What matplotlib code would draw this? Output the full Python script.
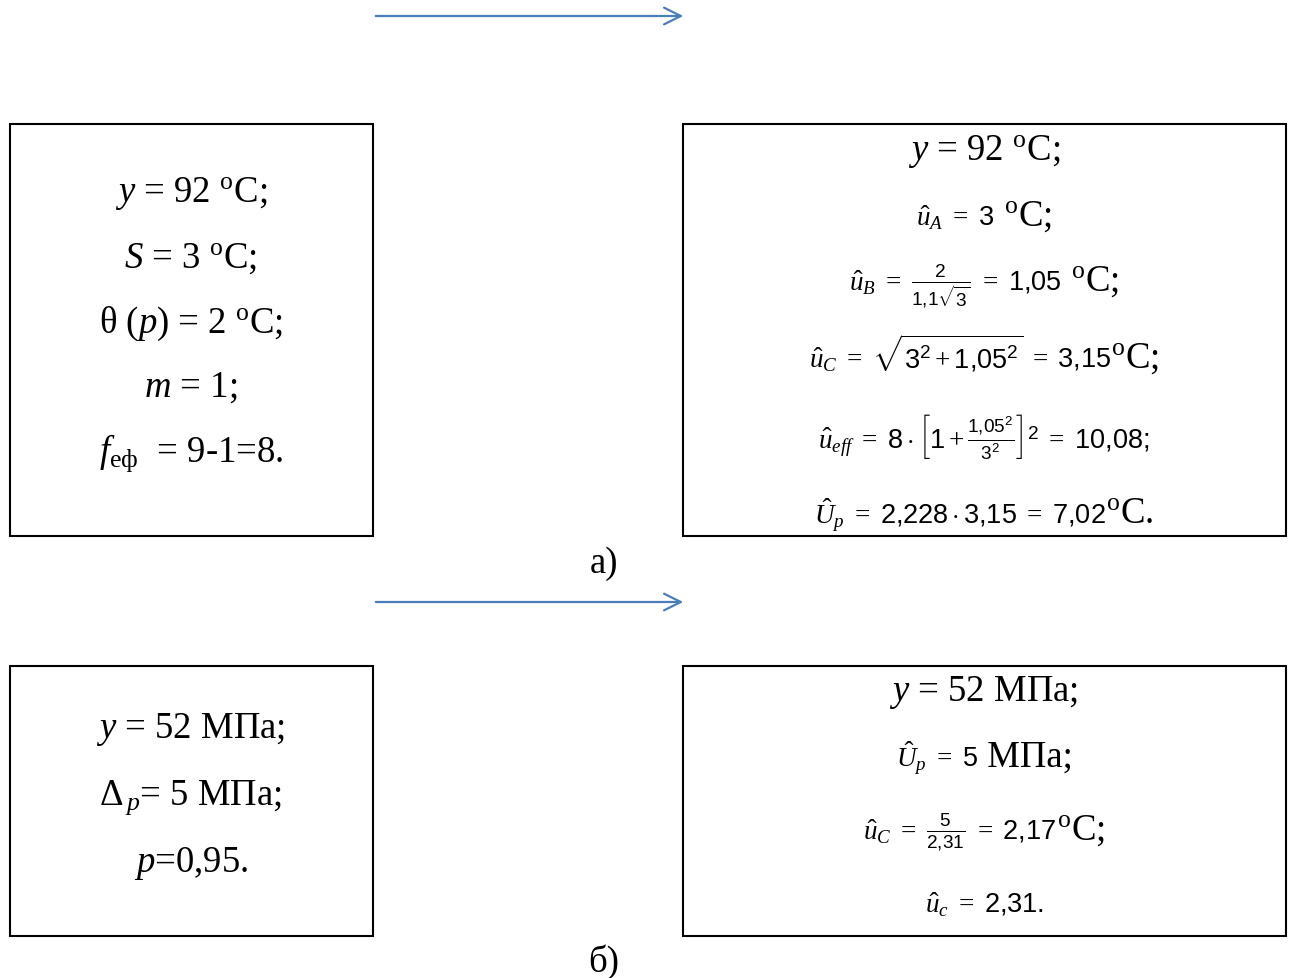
import matplotlib
matplotlib.use("Agg")
import matplotlib.pyplot as plt
from matplotlib.patches import Rectangle, FancyArrowPatch

plt.rcParams['mathtext.fontset'] = 'custom'
plt.rcParams['mathtext.rm'] = 'Liberation Serif'
plt.rcParams['mathtext.it'] = 'Liberation Serif:italic'
plt.rcParams['mathtext.sf'] = 'Liberation Sans'

# left boxes (given data)
left_a = [r"$y$ = 92 $^{\rm o}$C;",
          r"$S$ = 3 $^{\rm o}$C;",
          r"θ ($p$) = 2 $^{\rm o}$C;",
          r"$m$ = 1;",
          r"$f$$_{\rm eф}$  = 9-1=8."]
left_b = [r"$y$ = 52 МПа;",
          r"Δ$_{\,p}$= 5 МПа;",
          r"$p$=0,95."]

# right boxes: (formula part, unit part)
right_a = [(None, r"$y$ = 92 $^{\rm o}$C;"),
           (r"$\hat{u}_A\ =\ \mathsf{3}$", r" $^{\rm o}$C;"),
           (r"$\hat{u}_B\ =\ \frac{\mathsf{2}}{\mathsf{1{,}1}\sqrt{\mathsf{3}}}\ =\ \mathsf{1{,}05}$", r" $^{\rm o}$C;"),
           (r"$\hat{u}_C\ =\ \sqrt{\mathsf{3}^{\mathsf{2}}+\mathsf{1{,}05}^{\mathsf{2}}}\ =\ \mathsf{3{,}15}$", r"$^{\rm o}$C;"),
           (r"$\hat{u}_{eff}\ =\ \mathsf{8}\cdot\left[\mathsf{1}+\frac{\mathsf{1{,}05}^{\mathsf{2}}}{\mathsf{3}^{\mathsf{2}}}\right]^{\mathsf{2}}\ =\ \mathsf{10{,}08;}$", None),
           (r"$\hat{U}_p\ =\ \mathsf{2{,}228}\cdot\mathsf{3{,}15}\ =\ \mathsf{7{,}02}$", r"$^{\rm o}$C.")]
right_b = [(None, r"$y$ = 52 МПа;"),
           (r"$\hat{U}_p\ =\ \mathsf{5}$", r" МПа;"),
           (r"$\hat{u}_C\ =\ \frac{\mathsf{5}}{\mathsf{2{,}31}}\ =\ \mathsf{2{,}17}$", r"$^{\rm o}$C;"),
           (r"$\hat{u}_c\ =\ \mathsf{2{,}31.}$", None)]

base_left_a = [203, 268, 333, 397, 462]
base_left_b = [738, 805, 872]
base_right_a = [161, 226, 291, 368, 448, 524]
base_right_b = [701, 767, 840, 913]

W, H = 1293, 979
fig = plt.figure(figsize=(W / 100, H / 100), dpi=100)
ax = fig.add_axes([0, 0, 1, 1])
ax.set_xlim(0, W)
ax.set_ylim(H, 0)
ax.axis('off')

serif = 'Liberation Serif'
big = 26.5
small = 19.5

for (x0, y0, x1, y1) in [(10, 125, 373, 537), (683, 125, 1286, 537),
                         (10, 667, 373, 937), (683, 667, 1286, 937)]:
    ax.add_patch(Rectangle((x0, y0), x1 - x0, y1 - y0, fill=False,
                           edgecolor='black', linewidth=1.5))

for y in [17, 603]:
    ax.add_patch(FancyArrowPatch((373, y), (686, y), arrowstyle='->,head_length=12,head_width=6',
                                 color='#4a7ebb', linewidth=1.6, mutation_scale=1))

for s, b in zip(left_a, base_left_a):
    ax.text(191, b, s, ha='center', va='baseline', fontsize=big, family=serif)
for s, b in zip(left_b, base_left_b):
    ax.text(191, b, s, ha='center', va='baseline', fontsize=big, family=serif)

ax.text(604, 573, "а)", ha='center', va='baseline', fontsize=big, family=serif)
ax.text(604, 972, "б)", ha='center', va='baseline', fontsize=big, family=serif)

fig.canvas.draw()
renderer = fig.canvas.get_renderer()
inv = ax.transData.inverted()


def width_of(t):
    bb = t.get_window_extent(renderer)
    p0 = inv.transform((bb.x0, bb.y0))
    p1 = inv.transform((bb.x1, bb.y1))
    return p1[0] - p0[0]


def draw_lines(lines, bases, cx):
    for (f, u), b in zip(lines, bases):
        parts = []
        if f is not None:
            parts.append(ax.text(0, b, f, ha='left', va='baseline', fontsize=small, family=serif))
        if u is not None:
            parts.append(ax.text(0, b, u, ha='left', va='baseline', fontsize=big, family=serif))
        ws = [width_of(t) for t in parts]
        x = cx - sum(ws) / 2
        for t, w in zip(parts, ws):
            t.set_x(x)
            x += w


draw_lines(right_a, base_right_a, 984)
draw_lines(right_b, base_right_b, 984)

fig.savefig("out.png", dpi=100)
